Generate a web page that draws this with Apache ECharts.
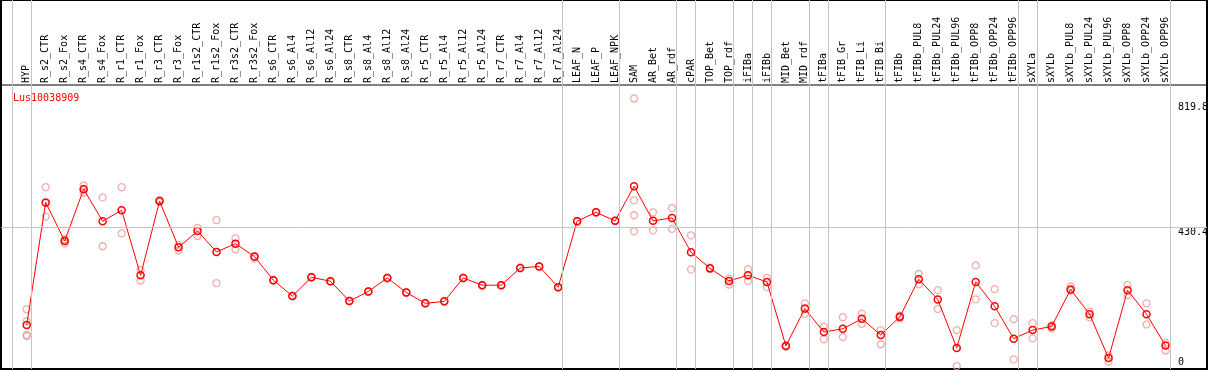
<!DOCTYPE html>
<html>
<head>
<meta charset="utf-8">
<script src="https://cdn.jsdelivr.net/npm/echarts@6/dist/echarts.min.js"></script>
<style>
  html, body { margin: 0; padding: 0; background: #fff; }
  #chartGene { width: 1209px; height: 370px; }
</style>
</head>
<body>
<div id="chartGene"></div>
<script>
// sample names, in plot order
var categories = ['HYP','R_s2_CTR','R_s2_Fox','R_s4_CTR','R_s4_Fox','R_r1_CTR','R_r1_Fox','R_r3_CTR','R_r3_Fox',
  'R_r1s2_CTR','R_r1s2_Fox','R_r3s2_CTR','R_r3s2_Fox','R_s6_CTR','R_s6_Al4','R_s6_Al12','R_s6_Al24',
  'R_s8_CTR','R_s8_Al4','R_s8_Al12','R_s8_Al24','R_r5_CTR','R_r5_Al4','R_r5_Al12','R_r5_Al24',
  'R_r7_CTR','R_r7_Al4','R_r7_Al12','R_r7_Al24','LEAF_N','LEAF_P','LEAF_NPK','SAM','AR_Bet','AR_rdf',
  'cPAR','TOP_Bet','TOP_rdf','iFIBa','iFIBb','MID_Bet','MID_rdf','tFIBa','tFIB_Gr','tFIB_Li','tFIB_Bi',
  'tFIBb','tFIBb_PUL8','tFIBb_PUL24','tFIBb_PUL96','tFIBb_OPP8','tFIBb_OPP24','tFIBb_OPP96',
  'sXYLa','sXYLb','sXYLb_PUL8','sXYLb_PUL24','sXYLb_PUL96','sXYLb_OPP8','sXYLb_OPP24','sXYLb_OPP96'];

// mean expression per sample
var means = [133,505,388,545,448,481,284,509,369,418,355,380,341,269,221,278,266,206,235,276,232,199,205,276,254,
  254,306,311,248,448,475,449,554,449,458,354,305,267,284,264,70,183,112,122,152,103,158,272,211,64,264,190,92,
  118,129,241,166,33,239,166,71];

// single replicates per sample
var replicates = [[181,145,103,100],[551,462,503],[394,381,389],[556,535,545],[520,372],[551,411],[300,268],[512,506],
  [376,359],[428,403],[451,260],[396,363],[341,335],[270,268],[222,220],[279,277],[267,265],[207,205],[236,234],
  [277,275],[233,231],[200,198],[206,204],[277,275],[255,253],[255,253],[307,305],[312,310],[249,247],[449,447],
  [476,474],[450,448],[819.8,511,466,417],[475,420],[488,425],[405,302],[307,303],[274,256],[302,267],[276,248],
  [72,68],[199,167],[128,90],[157,97],[168,137],[118,75],[162,154],[288,257],[239,182],[118,9],[314,211],[242,139],
  [151,29],[139,93],[133,123],[250,237],[174,157],[41,22],[255,224],[199,135],[79,56]];

// group separators drawn after these sample indexes
var groupEnds = [-1,0,28,31,34,35,37,38,39,41,42,45,52,53,60];
var yTicks = [0, 430.4, 819.8];
var geneName = 'Lus10038909';

var xMin = -1.354, xMax = 62.186, yMax = 860.79;
var mono = 'DejaVu Sans Mono';

var meanData = means.map(function (v, i) { return [i, v]; });
var repData = [];
replicates.forEach(function (arr, i) {
  arr.forEach(function (v) { repData.push([i, v]); });
});
var sepData = groupEnds.map(function (g) { return { xAxis: g + 0.24 }; });

var chartGene = echarts.init(document.getElementById('chartGene'), null, { renderer: 'canvas' });
var option_gene = {
  animation: false,
  title: {
    text: geneName,
    left: 8, top: 88,
    textStyle: { color: '#ff0000', fontSize: 10, fontFamily: mono, fontWeight: 'normal' }
  },
  grid: [
    { left: 1, top: 0, width: 1206, height: 369, show: true, borderColor: '#000', borderWidth: 2, outerBoundsMode: 'none' },
    { left: 1, top: 85, width: 1206, height: 284, show: true, borderColor: '#000', borderWidth: 1, outerBoundsMode: 'none' },
    { left: 17.21, top: 85, width: 1157.8, height: 10, outerBoundsMode: 'none' }
  ],
  xAxis: [
    { gridIndex: 0, type: 'value', min: xMin, max: xMax, show: false },
    { gridIndex: 1, type: 'value', min: xMin, max: xMax, show: false },
    {
      gridIndex: 2, type: 'category', position: 'top', data: categories, boundaryGap: true,
      axisLine: { show: false }, axisTick: { show: false }, splitLine: { show: false },
      axisLabel: { interval: 0, rotate: 90, margin: 2, fontSize: 10, fontFamily: mono, color: '#000', hideOverlap: false }
    }
  ],
  yAxis: [
    { gridIndex: 0, type: 'value', min: 0, max: 1, show: false },
    {
      gridIndex: 1, type: 'value', min: 0, max: yMax, position: 'right',
      axisLine: { show: false }, axisTick: { show: false }, splitLine: { show: false },
      axisLabel: {
        inside: true, align: 'left', margin: 29, customValues: yTicks,
        fontSize: 10, fontFamily: mono, color: '#000',
        formatter: function (v) {
          var k = yTicks.indexOf(v);
          var s = k === 0 ? 'bot' : (k === 1 ? 'mid' : 'top');
          return '{' + s + '|' + v + '}';
        },
        rich: {
          top: { fontSize: 10, fontFamily: mono, color: '#000', padding: [17, 0, 0, 0] },
          mid: { fontSize: 10, fontFamily: mono, color: '#000', padding: [10, 0, 0, 0] },
          bot: { fontSize: 10, fontFamily: mono, color: '#000', padding: [0, 0, 14, 0] }
        }
      }
    },
    { gridIndex: 2, type: 'value', show: false }
  ],
  series: [
    {
      name: 'sep', type: 'line', xAxisIndex: 0, yAxisIndex: 0, data: [], z: 1,
      markLine: {
        silent: true, symbol: ['none', 'none'], label: { show: false },
        lineStyle: { color: '#c4c4c4', width: 1, type: 'solid' },
        data: sepData
      }
    },
    {
      name: 'replicates', type: 'scatter', xAxisIndex: 1, yAxisIndex: 1, data: repData, z: 2,
      symbol: 'circle', symbolSize: 7,
      itemStyle: { color: 'rgba(255,255,255,0)', borderColor: '#ee9a9a', borderWidth: 1.3 },
      markLine: {
        silent: true, symbol: ['none', 'none'], label: { show: false },
        lineStyle: { color: '#c4c4c4', width: 1, type: 'solid' },
        data: [{ yAxis: yTicks[1] }]
      }
    },
    {
      name: 'mean', type: 'line', xAxisIndex: 1, yAxisIndex: 1, data: meanData, z: 3,
      symbol: 'circle', symbolSize: 7, showAllSymbol: true,
      lineStyle: { color: '#ff0000', width: 1 },
      itemStyle: { color: 'rgba(255,255,255,0)', borderColor: '#ff0000', borderWidth: 1.5 }
    }
  ]
};
chartGene.setOption(option_gene);
window.onresize = function () {
  chartGene.resize();
};
</script>
</body>
</html>
